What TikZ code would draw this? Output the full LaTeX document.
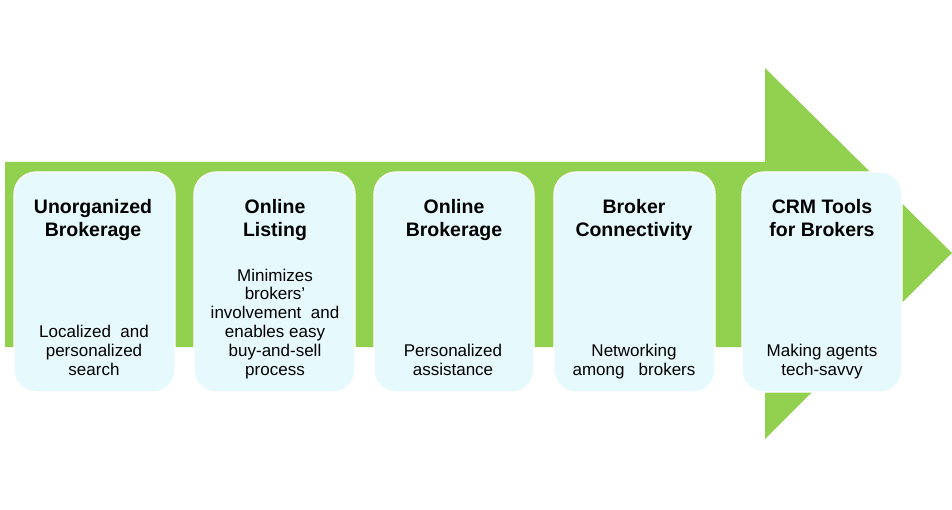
\documentclass[tikz,border=0pt]{standalone}
\usepackage{fontspec}
\setmainfont{Liberation Sans}
\definecolor{arrowgreen}{HTML}{92D050}
\definecolor{boxfill}{HTML}{E6F9FC}
\begin{document}
\begin{tikzpicture}[x=1pt,y=-1pt,
  stage/.style={draw=white,line width=1.2pt,fill=boxfill,rounded corners=22pt},
  title/.style={anchor=base,align=center,inner sep=0pt,font=\fontsize{19.5}{23}\selectfont\bfseries},
  body/.style={anchor=base,align=center,inner sep=0pt,font=\fontsize{17}{18.8}\selectfont}]
\useasboundingbox (0,0) rectangle (952,510);
\fill[arrowgreen] (5,162) -- (765,162) -- (765,68) -- (952,253) -- (765,439) -- (765,347) -- (5,347) -- cycle;
\draw[stage] (14,172) rectangle (175,392);
\draw[stage] (194,172) rectangle (355,392);
\draw[stage] (374,172) rectangle (534,392);
\draw[stage] (554,172) rectangle (715,392);
\draw[stage] (742,172) rectangle (902,392);
\node[title] (t1) at (93,236.7) {Unorganized\\Brokerage};
\node[title] (t2) at (275,236.7) {Online\\Listing};
\node[title] (t3) at (454,236.7) {Online\\Brokerage};
\node[title] (t4) at (634,236.7) {Broker\\Connectivity};
\node[title] (t5) at (822,236.7) {CRM Tools\\for Brokers};
\node[body] (b1) at (94,375) {Localized\ \ and\\personalized\\search};
\node[body] (b2) at (275,375) {Minimizes\\brokers’\\involvement\ \ and\\enables easy\\buy-and-sell\\process};
\node[body] (b3) at (453,375) {Personalized\\assistance};
\node[body] (b4) at (634,375) {Networking\\among\ \ \ brokers};
\node[body] (b5) at (822,375) {Making agents\\tech-savvy};
\end{tikzpicture}
\end{document}
